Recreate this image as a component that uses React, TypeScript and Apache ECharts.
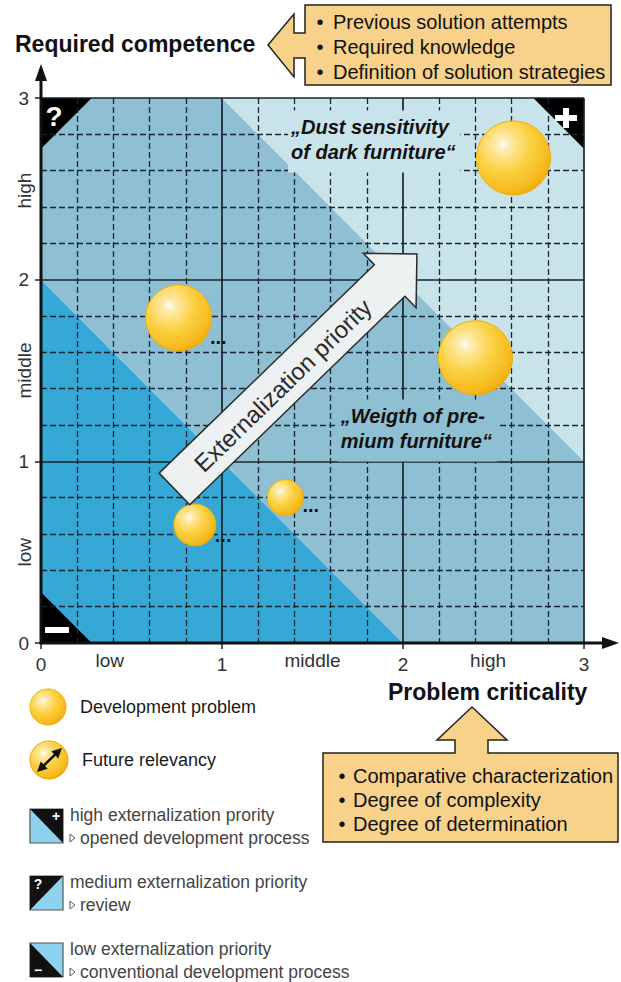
import React, { useEffect, useRef } from 'react';
import * as echarts from 'echarts';

const FONT = '"Liberation Sans", Arial, Helvetica, sans-serif';

// ---- data ----
const tickLabels = ['0', '1', '2', '3'];
const levelLabels = ['low', 'middle', 'high'];
const xLevelAt = [0.38, 1.5, 2.47];
const yLevelAt = [0.5, 1.5, 2.49];

// development problems: criticality (x), competence (y), bubble diameter
const problemCriticality = [2.61, 0.76, 2.4, 1.35, 0.85];
const problemCompetence = [2.67, 1.79, 1.57, 0.8, 0.65];
const problemDiameter = [74, 66, 74, 36, 42];
const problemNames = ['„Dust sensitivity\nof dark furniture“', '', '„Weigth of pre-\nmium furniture“', '', ''];
const namedLabelAnchor = [[1.365, 2.862], null, [1.64, 1.271], null, null];

// externalization zones: limits of criticality + competence
const zoneLimits = [2, 4];
const zoneColors = ['#35a8d6', '#8ebfd2', '#c9e3eb'];
const cornerLeg = 0.28;

const arrowFrom = [0.737, 0.848];
const arrowTo = [2.077, 2.141];
const arrowText = 'Externalization priority';

const competenceCriteria = ['Previous solution attempts', 'Required knowledge', 'Definition of solution strategies'];
const criticalityCriteria = ['Comparative characterization', 'Degree of complexity', 'Degree of determination'];

const problemLegend = ['Development problem', 'Future relevancy'];
const priorityTitles = ['high externalization prority', 'medium externalization priority', 'low externalization priority'];
const prioritySubs = ['opened development process', 'review', 'conventional development process'];
const prioritySigns = ['+', '?', '−'];

// ---- helpers ----
const bubbleFill = () =>
  new echarts.graphic.RadialGradient(0.36, 0.32, 0.75, [
    { offset: 0, color: '#fffbf0' },
    { offset: 0.15, color: '#fde9a4' },
    { offset: 0.5, color: '#fbd040' },
    { offset: 0.85, color: '#f6b91e' },
    { offset: 1, color: '#f0a800' },
  ]);

function buildRegions() {
  const [a, b] = zoneLimits;
  const c = cornerLeg;
  return [
    { points: [[0, 0], [a, 0], [0, a]], color: zoneColors[0] },
    { points: [[a, 0], [3, 0], [3, b - 3], [b - 3, 3], [0, 3], [0, a]], color: zoneColors[1] },
    { points: [[3, b - 3], [3, 3], [b - 3, 3]], color: zoneColors[2] },
    { points: [[0, 3], [c, 3], [0, 3 - c]], color: '#000' },
    { points: [[3 - c, 3], [3, 3], [3, 3 - c]], color: '#000' },
    { points: [[0, 0], [c, 0], [0, c]], color: '#000' },
  ];
}

function zoneColorAt(x: number, y: number) {
  const s = x + y;
  if (s < zoneLimits[0]) return zoneColors[0];
  if (s < zoneLimits[1]) return zoneColors[1];
  return zoneColors[2];
}

function txt(x: number, y: number, text: string, o: any = {}) {
  return {
    type: 'text',
    x,
    y,
    z: o.z ?? 20,
    rotation: o.rotation ?? 0,
    style: {
      text,
      fontSize: o.size ?? 18,
      fontFamily: FONT,
      fontWeight: o.weight ?? 'normal',
      fontStyle: o.style ?? 'normal',
      fill: o.fill ?? '#111',
      align: o.align ?? 'left',
      textAlign: o.align ?? 'left',
      verticalAlign: o.valign ?? 'middle',
      textVerticalAlign: o.valign ?? 'middle',
      lineHeight: o.lineHeight,
      backgroundColor: o.bg,
      padding: o.padding,
    },
  };
}

function axisCfg() {
  return {
    type: 'value',
    min: 0,
    max: 3,
    interval: 1,
    z: 3,
    axisLine: { show: false },
    axisTick: { show: true, length: 6, lineStyle: { color: '#222', width: 1.5 } },
    axisLabel: {
      show: true,
      margin: 12,
      fontSize: 19,
      color: '#333',
      fontFamily: FONT,
      formatter: (v: number) => tickLabels[Math.round(v)] ?? '',
    },
    splitLine: { show: true, lineStyle: { color: '#16252f', width: 1.7 } },
    minorTick: { show: false, splitNumber: 5 },
    minorSplitLine: { show: true, lineStyle: { color: '#16252f', width: 1.3, type: [6, 3] } },
  };
}

function buildGraphics(px: (p: number[]) => number[]) {
  const els: any[] = [];
  const o = px([0, 0]);
  const xe = px([3, 0]);
  const ye = px([0, 3]);
  const tr = px([3, 3]);

  // axes with arrows
  els.push({ type: 'line', z: 15, shape: { x1: o[0], y1: o[1], x2: xe[0] + 22, y2: o[1] }, style: { stroke: '#111', lineWidth: 3 } });
  els.push({ type: 'polygon', z: 15, shape: { points: [[xe[0] + 18, o[1] - 6], [xe[0] + 35, o[1]], [xe[0] + 18, o[1] + 6]] }, style: { fill: '#111' } });
  els.push({ type: 'line', z: 15, shape: { x1: o[0], y1: o[1] + 1.5, x2: o[0], y2: ye[1] - 20 }, style: { stroke: '#111', lineWidth: 3 } });
  els.push({ type: 'polygon', z: 15, shape: { points: [[o[0] - 6, ye[1] - 17], [o[0], ye[1] - 34], [o[0] + 6, ye[1] - 17]] }, style: { fill: '#111' } });

  // corner signs
  els.push(txt(ye[0] + 13, ye[1] + 18, '?', { size: 28, weight: 'bold', fill: '#fff', align: 'center', z: 15 }));
  els.push({ type: 'rect', z: 15, shape: { x: tr[0] - 29, y: tr[1] + 17, width: 22, height: 6 }, style: { fill: '#fff' } });
  els.push({ type: 'rect', z: 15, shape: { x: tr[0] - 21, y: tr[1] + 10, width: 6, height: 20 }, style: { fill: '#fff' } });
  els.push({ type: 'rect', z: 15, shape: { x: o[0] + 4, y: o[1] - 16, width: 24, height: 6 }, style: { fill: '#fff' } });

  // big arrow
  const t0 = px(arrowFrom);
  const t1 = px(arrowTo);
  const dx = t1[0] - t0[0];
  const dy = t1[1] - t0[1];
  const L = Math.hypot(dx, dy);
  const ux = dx / L, uy = dy / L;
  const nx = -uy, ny = ux;
  const P = (u: number, v: number) => [t0[0] + u * ux + v * nx, t0[1] + u * uy + v * ny];
  const hw = 22, hh = 38, hl = 38;
  els.push({
    type: 'polygon',
    z: 10,
    shape: { points: [P(0, -hw), P(L - hl, -hw), P(L - hl, -hh), P(L, 0), P(L - hl, hh), P(L - hl, hw), P(0, hw)] },
    style: { fill: '#eef1f2', stroke: '#2b2b2b', lineWidth: 1.5 },
  });
  const tc = P(150, 1);
  els.push(txt(tc[0], tc[1], arrowText, { size: 24, fill: '#2a2a2a', align: 'center', rotation: -Math.atan2(dy, dx), z: 11 }));

  // bubble labels
  problemCriticality.forEach((x, i) => {
    const c = px([x, problemCompetence[i]]);
    const r = problemDiameter[i] / 2;
    if (problemNames[i]) {
      const a = namedLabelAnchor[i] as number[];
      const p = px(a);
      els.push(
        txt(p[0], p[1] - 12.5, problemNames[i], {
          size: 20,
          weight: 'bold',
          style: 'italic',
          valign: 'top',
          lineHeight: 25,
          bg: zoneColorAt(a[0], a[1]),
          padding: [4, 5, 8, 3],
          z: 9,
        })
      );
    } else {
      els.push(txt(c[0] + r * 0.95, c[1] + r * 0.75 - 6, '...', { size: 20, weight: 'bold', z: 20 }));
    }
  });

  // level labels
  levelLabels.forEach((lab, i) => {
    const p = px([xLevelAt[i], 0]);
    els.push(txt(p[0], p[1] + 17, lab, { size: 19, fill: '#333', align: 'center' }));
    const q = px([0, yLevelAt[i]]);
    els.push(txt(q[0] - 17, q[1], lab, { size: 19, fill: '#333', align: 'center', rotation: Math.PI / 2 }));
  });

  // axis titles
  els.push(txt(15, 44, 'Required competence', { size: 23, weight: 'bold', fill: '#111' }));
  els.push(txt(388, 692, 'Problem criticality', { size: 23, weight: 'bold', fill: '#111' }));

  // callouts
  const calloutStyle = { fill: '#f8d18a', stroke: '#222', lineWidth: 1.5 };
  els.push({
    type: 'polygon',
    z: 5,
    shape: {
      points: [[268, 45], [294, 14], [294, 33], [305, 33], [305, 5], [611, 5], [611, 85], [305, 85], [305, 58], [294, 58], [294, 77]],
    },
    style: calloutStyle,
  });
  competenceCriteria.forEach((t, i) => {
    els.push(txt(320, 22 + i * 25, '•', { size: 20, align: 'center' }));
    els.push(txt(333, 22 + i * 25, t, { size: 20 }));
  });
  els.push({
    type: 'polygon',
    z: 5,
    shape: {
      points: [[472, 707], [507, 740], [488, 740], [488, 753], [618, 753], [618, 842], [323, 842], [323, 753], [455, 753], [455, 740], [437, 740]],
    },
    style: calloutStyle,
  });
  criticalityCriteria.forEach((t, i) => {
    els.push(txt(342, 776 + i * 24, '•', { size: 20, align: 'center' }));
    els.push(txt(353, 776 + i * 24, t, { size: 20 }));
  });

  // legend: bubbles
  els.push({ type: 'circle', z: 5, shape: { cx: 48, cy: 707, r: 18 }, style: { fill: bubbleFill(), stroke: '#efb000', lineWidth: 1 } });
  els.push(txt(80, 707, problemLegend[0], { size: 18, fill: '#1a1a1a' }));
  els.push({ type: 'circle', z: 5, shape: { cx: 49, cy: 760, r: 19 }, style: { fill: bubbleFill(), stroke: '#e8a800', lineWidth: 1 } });
  const a0 = [37, 772], a1 = [62, 748];
  const adx = a1[0] - a0[0], ady = a1[1] - a0[1];
  const al = Math.hypot(adx, ady);
  const aux = adx / al, auy = ady / al;
  els.push({ type: 'line', z: 6, shape: { x1: a0[0] + aux * 6, y1: a0[1] + auy * 6, x2: a1[0] - aux * 6, y2: a1[1] - auy * 6 }, style: { stroke: '#111', lineWidth: 2.5 } });
  const head = (tip: number[], dirx: number, diry: number) => ({
    type: 'polygon',
    z: 6,
    shape: {
      points: [
        tip,
        [tip[0] - dirx * 10 - diry * 5, tip[1] - diry * 10 + dirx * 5],
        [tip[0] - dirx * 10 + diry * 5, tip[1] - diry * 10 - dirx * 5],
      ],
    },
    style: { fill: '#111' },
  });
  els.push(head(a1, aux, auy));
  els.push(head(a0, -aux, -auy));
  els.push(txt(82, 760, problemLegend[1], { size: 18, fill: '#1a1a1a' }));

  // legend: priority squares
  const tops = [809, 876, 943];
  tops.forEach((top, i) => {
    const x0 = 30, x1 = 63, y0 = top, y1 = top + 34;
    els.push({ type: 'rect', z: 5, shape: { x: x0, y: y0, width: x1 - x0, height: y1 - y0 }, style: { fill: '#8dd2ef', stroke: '#555', lineWidth: 1.2 } });
    let tri: number[][];
    let sx: number, sy: number;
    if (i === 0) {
      tri = [[x0, y0], [x1, y0], [x1, y1]];
      sx = 56; sy = y0 + 7;
    } else if (i === 1) {
      tri = [[x0, y0], [x1, y0], [x0, y1]];
      sx = 38; sy = y0 + 8;
    } else {
      tri = [[x0, y0], [x1, y1], [x0, y1]];
      sx = 38; sy = y1 - 7;
    }
    els.push({ type: 'polygon', z: 6, shape: { points: tri }, style: { fill: '#111' } });
    els.push(txt(sx, sy, prioritySigns[i], { size: 14, weight: 'bold', fill: '#fff', align: 'center', z: 7 }));
    els.push(txt(70, y0 + 6, priorityTitles[i], { size: 17.5, fill: '#444' }));
    const sy2 = y0 + 29;
    els.push({ type: 'polygon', z: 6, shape: { points: [[70, sy2 - 4], [75, sy2], [70, sy2 + 4]] }, style: { fill: 'none', stroke: '#555', lineWidth: 1 } });
    els.push(txt(80, sy2, prioritySubs[i], { size: 17.5, fill: '#444' }));
  });

  return els;
}

export default function App() {
  const ref = useRef<HTMLDivElement>(null);
  useEffect(() => {
    if (!ref.current) return;
    const chart = echarts.init(ref.current, null, { renderer: 'svg' });
    const regions = buildRegions();
    chart.setOption({
      animation: false,
      backgroundColor: '#ffffff',
      grid: { left: 41, right: 37, top: 98, bottom: 339, containLabel: false },
      xAxis: axisCfg(),
      yAxis: axisCfg(),
      series: [
        {
          type: 'custom',
          z: 1,
          silent: true,
          coordinateSystem: 'cartesian2d',
          data: regions.map((r) => r.points[0]),
          renderItem: (params: any, api: any) => {
            const r = regions[params.dataIndex];
            return {
              type: 'polygon',
              shape: { points: r.points.map((p) => api.coord(p)) },
              style: { fill: r.color },
            };
          },
        },
        {
          type: 'scatter',
          z: 8,
          silent: true,
          data: problemCriticality.map((x, i) => ({
            value: [x, problemCompetence[i]],
            symbolSize: problemDiameter[i],
          })),
          itemStyle: { color: bubbleFill(), borderColor: '#efb000', borderWidth: 1, opacity: 1 },
        },
      ],
    });
    const px = (p: number[]) => chart.convertToPixel({ gridIndex: 0 }, p) as unknown as number[];
    chart.setOption({ graphic: { elements: buildGraphics(px) } });
    return () => chart.dispose();
  }, []);
  return <div ref={ref} style={{ position: 'absolute', left: 0, top: 0, width: 621, height: 982 }} />;
}
